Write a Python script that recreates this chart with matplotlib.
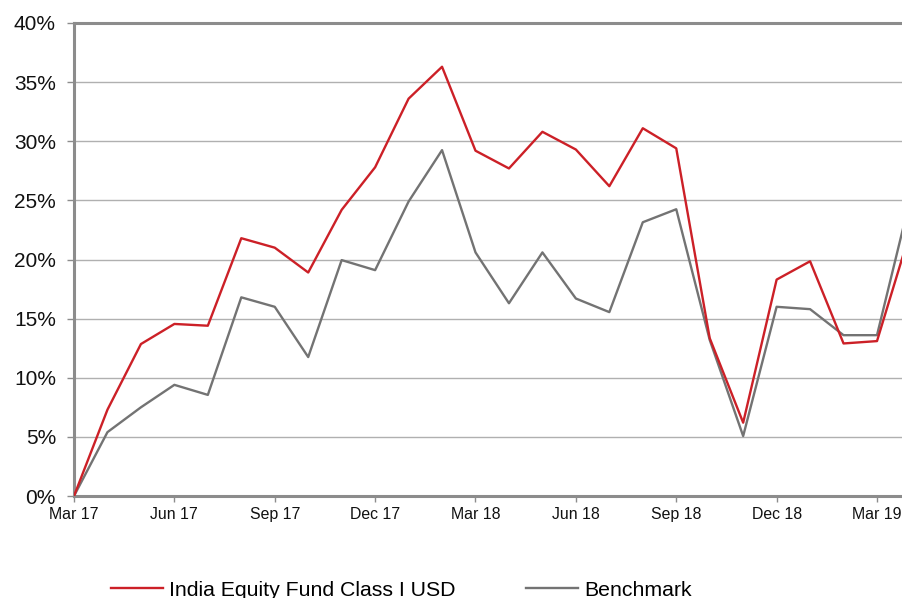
import matplotlib.pyplot as plt
import numpy as np

plt.rcParams['font.family'] = ['Liberation Sans', 'DejaVu Sans']

# Cumulative performance, monthly from Mar 17 to Apr 19 (%)
fund = [0.0, 7.3, 12.85, 14.55, 14.4, 21.8, 21.0, 18.9, 24.2, 27.8, 33.6,
        36.3, 29.2, 27.7, 30.8, 29.3, 26.2, 31.1, 29.4, 13.35, 6.2, 18.3,
        19.85, 12.9, 13.1, 22.4]
benchmark = [0.0, 5.4, 7.5, 9.4, 8.55, 16.8, 16.0, 11.75, 19.95, 19.1, 24.9,
             29.25, 20.6, 16.3, 20.6, 16.7, 15.55, 23.15, 24.25, 13.2, 5.07,
             16.0, 15.8, 13.6, 13.6, 25.2]
tick_labels = ['Mar 17', 'Jun 17', 'Sep 17', 'Dec 17', 'Mar 18', 'Jun 18',
               'Sep 18', 'Dec 18', 'Mar 19']
y_ticks = [0, 5, 10, 15, 20, 25, 30, 35, 40]

spine_col = '#8c8c8c'
months = np.arange(len(fund))

fig = plt.figure(figsize=(9.03, 5.98), dpi=100)
ax = fig.add_axes([74/903, 1 - 496/598, (903 - 74)/903, (496 - 23)/598])

ax.plot(months, benchmark, color='#737373', lw=1.7, label='Benchmark', zorder=3)
ax.plot(months, fund, color='#cc2027', lw=1.7,
        label='India Equity Fund Class I USD', zorder=4)

ax.set_xlim(0, (903 - 74) / ((877 - 74) / 24))
ax.set_ylim(0, 40)
ax.set_xticks(np.arange(0, 25, 3))
ax.set_xticklabels(tick_labels)
ax.set_yticks(y_ticks)
ax.set_yticklabels([f'{v}%' for v in y_ticks])

ax.grid(axis='y', color='#b0b0b0', lw=1.0)
ax.set_axisbelow(True)
for side in ['left', 'bottom', 'top']:
    ax.spines[side].set_color(spine_col)
    ax.spines[side].set_linewidth(2.2)
ax.spines['right'].set_visible(False)

ax.tick_params(axis='y', length=5, width=1, color=spine_col, pad=8,
               labelsize=15, labelcolor='#111111')
ax.tick_params(axis='x', length=4, width=1, color=spine_col, pad=4,
               labelsize=11.4, labelcolor='#111111')

handles, labels = ax.get_legend_handles_labels()
fig.legend(handles[::-1], labels[::-1], loc='center left',
           bbox_to_anchor=(111/903, 1 - 590/598), ncol=2, frameon=False,
           fontsize=15.3, handlelength=2.45, handletextpad=0.3,
           columnspacing=3.3, borderpad=0, borderaxespad=0)

fig.savefig('out.png', dpi=100)
